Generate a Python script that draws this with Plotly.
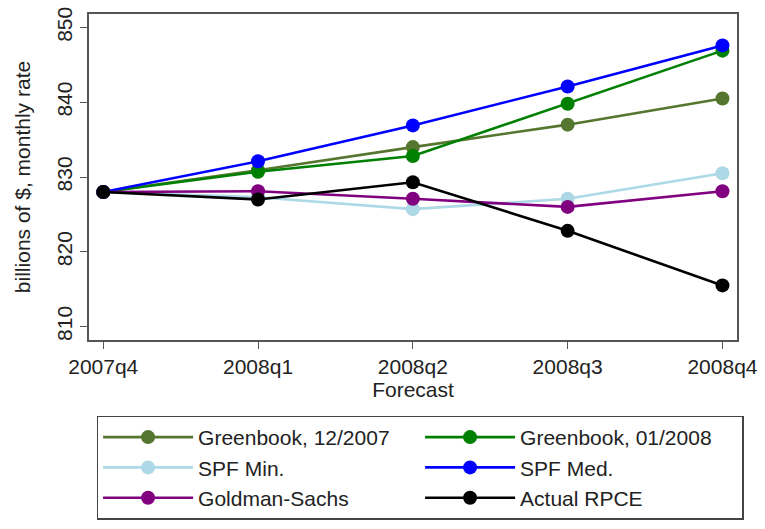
import plotly.graph_objects as go

# Quarters on the horizontal axis
quarters = ["2007q4", "2008q1", "2008q2", "2008q3", "2008q4"]

# Real PCE forecasts, billions of $, monthly rate
greenbook_dec07 = [828.0, 830.9, 834.0, 837.0, 840.5]
greenbook_jan08 = [828.0, 830.7, 832.8, 839.8, 846.9]
spf_min = [828.0, 827.3, 825.7, 827.1, 830.5]
spf_med = [828.0, 832.1, 836.9, 842.1, 847.6]
goldman = [828.0, 828.1, 827.1, 826.0, 828.1]
actual_rpce = [828.0, 827.0, 829.3, 822.8, 815.5]

series = [
    ("Greenbook, 12/2007", greenbook_dec07, "#55762f"),
    ("Greenbook, 01/2008", greenbook_jan08, "#008000"),
    ("SPF Min.", spf_min, "#add8e6"),
    ("SPF Med.", spf_med, "#0000ff"),
    ("Goldman-Sachs", goldman, "#800080"),
    ("Actual RPCE", actual_rpce, "#000000"),
]

font_family = "Liberation Sans, Arial, sans-serif"

fig = go.Figure()
for name, vals, color in series:
    fig.add_trace(go.Scatter(
        x=list(range(len(quarters))), y=vals, name=name,
        mode="lines+markers",
        line=dict(color=color, width=2.6),
        marker=dict(color=color, size=14),
    ))

fig.update_layout(
    width=765, height=529,
    margin=dict(l=89, r=22, t=7, b=189),
    paper_bgcolor="white", plot_bgcolor="white",
    font=dict(family=font_family, size=21, color="#222222"),
    showlegend=True,
    legend=dict(
        orientation="h",
        x=0.012, xanchor="left",
        y=-0.232, yanchor="top",
        entrywidth=217, entrywidthmode="pixels",
        itemwidth=90,
        bordercolor="#444444", borderwidth=1.3,
        bgcolor="white",
        font=dict(size=21, family=font_family, color="#222222"),
        tracegroupgap=0,
    ),
)

fig.update_xaxes(
    range=[-0.092, 4.094],
    tickmode="array", tickvals=list(range(len(quarters))), ticktext=quarters,
    ticks="outside", ticklen=7, tickcolor="#555555", tickwidth=1.3,
    showline=True, linecolor="#555555", linewidth=1.6, mirror=True,
    showgrid=False, zeroline=False,
    title=dict(text="Forecast", standoff=4, font=dict(size=21)),
    tickfont=dict(size=21),
)
fig.update_yaxes(
    range=[808.2, 851.8],
    tickmode="array", tickvals=[810, 820, 830, 840, 850],
    tickangle=-90,
    ticks="outside", ticklen=7, tickcolor="#555555", tickwidth=1.3,
    showline=True, linecolor="#555555", linewidth=1.6, mirror=True,
    showgrid=False, zeroline=False,
    title=dict(text="billions of $, monthly rate", standoff=16, font=dict(size=21)),
    tickfont=dict(size=21),
)

fig.write_html("out.html")
